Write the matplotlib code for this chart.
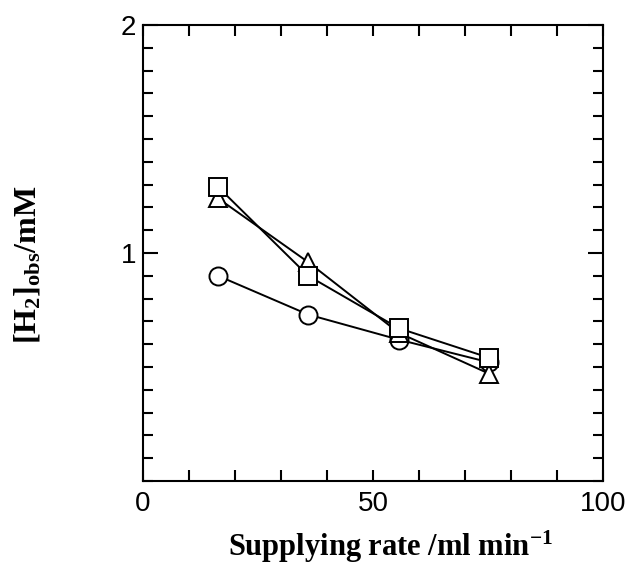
import matplotlib
matplotlib.use("Agg")
import matplotlib.pyplot as plt
from matplotlib.ticker import MultipleLocator

# supplying rate (ml/min) and observed H2 concentration (mM)
rate = [16.3, 35.9, 55.6, 75.3]
h2_circle = [0.90, 0.73, 0.62, 0.52]
h2_triangle = [1.24, 0.96, 0.65, 0.47]
h2_square = [1.29, 0.90, 0.67, 0.54]

plt.rcParams["font.family"] = ["Liberation Sans", "DejaVu Sans"]
plt.rcParams["mathtext.fontset"] = "custom"
plt.rcParams["mathtext.rm"] = "Liberation Serif:bold"
plt.rcParams["mathtext.it"] = "Liberation Serif:bold"
plt.rcParams["mathtext.bf"] = "Liberation Serif:bold"

fig = plt.figure(figsize=(6.31, 5.69), dpi=100)
ax = fig.add_axes([0.2266, 0.1547, 0.729, 0.8014])

mk = dict(color="black", lw=1.4, markersize=13, markeredgewidth=1.4,
          markerfacecolor="white", markeredgecolor="black")
ax.plot(rate, h2_circle, marker="o", zorder=3, **mk)
ax.plot(rate, h2_triangle, marker="^", zorder=4, **mk)
ax.plot(rate, h2_square, marker="s", zorder=5, **mk)

ax.set_xlim(0, 100)
ax.set_ylim(0, 2)
ax.xaxis.set_major_locator(MultipleLocator(50))
ax.xaxis.set_minor_locator(MultipleLocator(10))
ax.yaxis.set_major_locator(MultipleLocator(1))
ax.yaxis.set_minor_locator(MultipleLocator(0.1))
ax.set_yticks([1, 2])
ax.set_yticklabels(["1", "2"])

for s in ax.spines.values():
    s.set_linewidth(1.5)

ax.tick_params(which="both", direction="in", top=True, right=True, width=1.5,
               labelsize=20)
ax.tick_params(axis="x", which="both", length=8, pad=7)
ax.tick_params(axis="y", which="major", length=11, pad=5)
ax.tick_params(axis="y", which="minor", length=7)

ax.set_xlabel(r"Supplying rate /ml min$^{\mathbf{-1}}$",
              family="Liberation Serif", fontweight="bold", fontsize=22)
ax.set_ylabel(r"[H$_2$]$_{\rm obs}$/mM",
              family="Liberation Serif", fontweight="bold", fontsize=23)
ax.xaxis.set_label_coords(0.537, -0.105)
ax.yaxis.set_label_coords(-0.218, 0.474)

fig.savefig("out.png", dpi=100)
